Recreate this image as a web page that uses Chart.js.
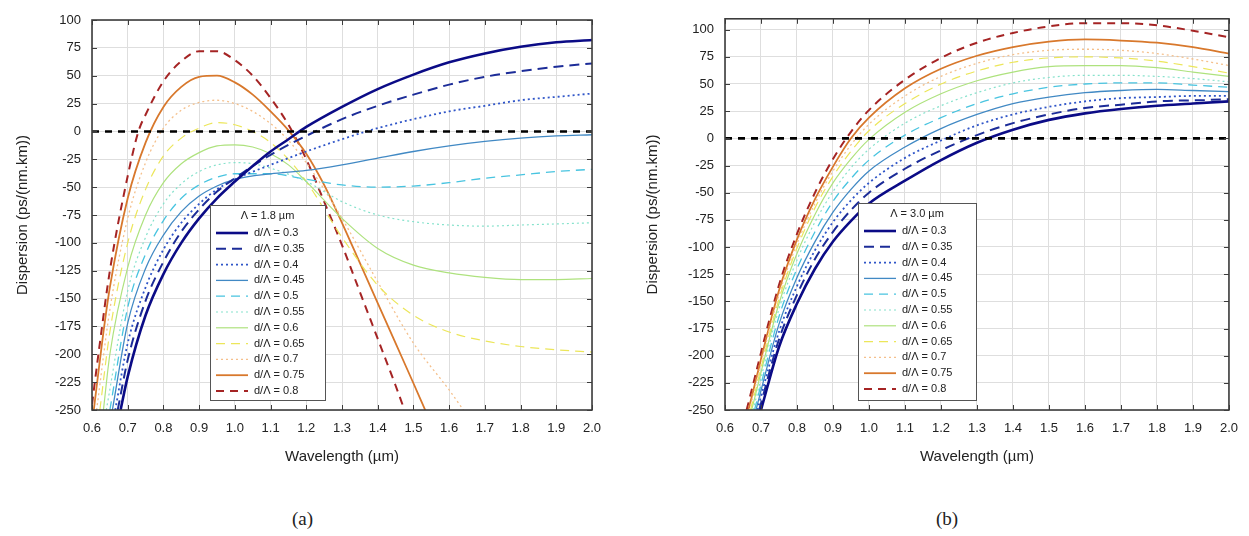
<!DOCTYPE html>
<html>
<head>
<meta charset="utf-8">
<script src="https://cdn.jsdelivr.net/npm/chart.js@4.4.1/dist/chart.umd.min.js"></script>
<style>
  body { margin: 0; background: #fff; width: 1249px; height: 536px; position: relative; overflow: hidden; }
  #wrapA { position: absolute; left: 0; top: 0; }
  #wrapB { position: absolute; left: 630px; top: 0; }
  .cap { position: absolute; top: 508px; font-family: "Liberation Serif", "DejaVu Serif", serif; font-size: 19px; color: #222; }
</style>
</head>
<body>
<div id="wrapA"><canvas id="chartA" width="615" height="480"></canvas></div>
<div id="wrapB"><canvas id="chartB" width="619" height="480"></canvas></div>
<div class="cap" style="left:292px">(a)</div>
<div class="cap" style="left:936px">(b)</div>

<script>
// legend labels (d/Λ) and tick values
const ratios = ['0.3', '0.35', '0.4', '0.45', '0.5', '0.55', '0.6', '0.65', '0.7', '0.75', '0.8'];
const xTicks = [0.6, 0.7, 0.8, 0.9, 1.0, 1.1, 1.2, 1.3, 1.4, 1.5, 1.6, 1.7, 1.8, 1.9, 2.0];
const yTicks = [-250, -225, -200, -175, -150, -125, -100, -75, -50, -25, 0, 25, 50, 75, 100];

// panel (a), Λ = 1.8 µm : [wavelength µm, dispersion ps/(nm.km)]
const a30 = [[0.68,-250],[0.7,-220],[0.75,-165],[0.8,-128],[0.85,-100],[0.9,-78],[0.95,-60],[1.0,-45],[1.05,-31],[1.1,-18],[1.15,-7],[1.2,4],[1.3,22],[1.4,38],[1.5,51],[1.6,62],[1.7,70],[1.8,76],[1.9,80],[2.0,82]];
const a35 = [[0.672,-250],[0.7,-205],[0.75,-152],[0.8,-117],[0.85,-90],[0.9,-70],[0.95,-54],[1.0,-42],[1.1,-21],[1.2,-4],[1.3,11],[1.4,23],[1.5,33],[1.6,42],[1.7,49],[1.8,54],[1.9,58],[2.0,61]];
const a40 = [[0.665,-250],[0.7,-190],[0.75,-140],[0.8,-106],[0.85,-82],[0.9,-65],[0.95,-52],[1.0,-43],[1.1,-30],[1.2,-18],[1.3,-7],[1.4,3],[1.5,11],[1.6,18],[1.7,23],[1.8,28],[1.9,31],[2.0,34]];
const a45 = [[0.657,-250],[0.7,-172],[0.75,-123],[0.8,-93],[0.85,-72],[0.9,-58],[0.95,-49],[1.0,-43],[1.1,-38],[1.2,-35],[1.3,-30],[1.4,-24],[1.5,-18],[1.6,-13],[1.7,-9],[1.8,-6],[1.9,-4],[2.0,-3]];
const a50 = [[0.65,-250],[0.7,-158],[0.75,-110],[0.8,-80],[0.85,-60],[0.9,-48],[0.95,-41],[1.0,-38],[1.1,-38],[1.2,-43],[1.3,-48],[1.4,-50],[1.5,-49],[1.6,-46],[1.7,-42],[1.8,-39],[1.9,-36],[2.0,-34]];
const a55 = [[0.64,-250],[0.7,-143],[0.75,-95],[0.8,-65],[0.85,-47],[0.9,-36],[0.95,-30],[1.0,-28],[1.05,-29],[1.1,-33],[1.2,-45],[1.3,-63],[1.4,-75],[1.5,-81],[1.6,-84],[1.7,-85],[1.8,-84],[1.9,-83],[2.0,-82]];
const a60 = [[0.632,-250],[0.65,-200],[0.7,-122],[0.75,-75],[0.8,-46],[0.85,-29],[0.9,-19],[0.95,-13],[1.0,-12],[1.05,-14],[1.1,-20],[1.15,-30],[1.2,-45],[1.3,-78],[1.4,-105],[1.5,-120],[1.6,-127],[1.7,-131],[1.8,-133],[1.9,-133],[2.0,-132]];
const a65 = [[0.622,-250],[0.65,-180],[0.7,-100],[0.75,-52],[0.8,-22],[0.85,-6],[0.9,3],[0.95,8],[1.0,6],[1.05,0],[1.1,-10],[1.15,-25],[1.2,-45],[1.3,-95],[1.4,-138],[1.5,-165],[1.6,-180],[1.7,-188],[1.8,-193],[1.9,-196],[2.0,-198]];
const a70 = [[0.613,-250],[0.65,-160],[0.7,-78],[0.75,-28],[0.8,3],[0.85,19],[0.9,26],[0.95,28],[1.0,25],[1.05,18],[1.1,7],[1.15,-8],[1.2,-28],[1.25,-52],[1.3,-78],[1.4,-135],[1.5,-190],[1.6,-232],[1.64,-250]];
const a75 = [[0.605,-250],[0.63,-185],[0.65,-140],[0.7,-60],[0.75,-10],[0.8,22],[0.85,40],[0.9,49],[0.95,50],[1.0,44],[1.05,33],[1.1,18],[1.15,1],[1.2,-20],[1.25,-48],[1.3,-82],[1.35,-118],[1.4,-154],[1.45,-190],[1.5,-226],[1.533,-250]];
const a80 = [[0.6,-245],[0.62,-195],[0.65,-125],[0.7,-40],[0.73,0],[0.75,15],[0.8,45],[0.85,63],[0.9,72],[0.95,72],[1.0,64],[1.05,50],[1.1,30],[1.15,6],[1.2,-25],[1.25,-63],[1.3,-102],[1.35,-144],[1.4,-186],[1.45,-228],[1.475,-250]];

// panel (b), Λ = 3.0 µm
const b30 = [[0.7,-250],[0.75,-192],[0.8,-152],[0.85,-120],[0.9,-95],[0.95,-76],[1.0,-60],[1.1,-39],[1.2,-20],[1.3,-4],[1.4,8],[1.5,17],[1.6,23],[1.7,27],[1.8,30],[1.9,32],[2.0,34]];
const b35 = [[0.695,-250],[0.75,-185],[0.8,-144],[0.85,-111],[0.9,-86],[0.95,-66],[1.0,-50],[1.1,-28],[1.2,-11],[1.3,3],[1.4,14],[1.5,22],[1.6,28],[1.7,31],[1.8,34],[1.9,35],[2.0,36]];
const b40 = [[0.69,-250],[0.75,-178],[0.8,-136],[0.85,-103],[0.9,-77],[0.95,-57],[1.0,-41],[1.1,-18],[1.2,-2],[1.3,12],[1.4,22],[1.5,29],[1.6,34],[1.7,37],[1.8,38],[1.9,39],[2.0,39]];
const b45 = [[0.686,-250],[0.75,-171],[0.8,-128],[0.85,-95],[0.9,-68],[0.95,-47],[1.0,-30],[1.1,-8],[1.2,9],[1.3,22],[1.4,32],[1.5,38],[1.6,42],[1.7,44],[1.8,45],[1.9,44],[2.0,43]];
const b50 = [[0.682,-250],[0.75,-164],[0.8,-120],[0.85,-86],[0.9,-58],[0.95,-37],[1.0,-20],[1.1,3],[1.2,19],[1.3,32],[1.4,41],[1.5,47],[1.6,50],[1.7,51],[1.8,51],[1.9,49],[2.0,47]];
const b55 = [[0.678,-250],[0.75,-157],[0.8,-112],[0.85,-77],[0.9,-49],[0.95,-27],[1.0,-10],[1.1,14],[1.2,30],[1.3,42],[1.4,51],[1.5,56],[1.6,58],[1.7,58],[1.8,57],[1.9,55],[2.0,52]];
const b60 = [[0.674,-250],[0.75,-152],[0.8,-106],[0.85,-70],[0.9,-41],[0.95,-19],[1.0,-1],[1.1,24],[1.2,41],[1.3,53],[1.4,61],[1.5,66],[1.6,67],[1.7,67],[1.8,65],[1.9,61],[2.0,57]];
const b65 = [[0.671,-250],[0.75,-148],[0.8,-101],[0.85,-64],[0.9,-35],[0.95,-12],[1.0,7],[1.1,32],[1.2,50],[1.3,62],[1.4,70],[1.5,74],[1.6,75],[1.7,74],[1.8,71],[1.9,66],[2.0,60]];
const b70 = [[0.668,-250],[0.75,-144],[0.8,-97],[0.85,-60],[0.9,-30],[0.95,-6],[1.0,13],[1.1,39],[1.2,57],[1.3,69],[1.4,77],[1.5,81],[1.6,82],[1.7,81],[1.8,78],[1.9,73],[2.0,67]];
const b75 = [[0.665,-250],[0.75,-140],[0.8,-93],[0.85,-56],[0.9,-26],[0.95,0],[1.0,19],[1.1,46],[1.2,64],[1.3,76],[1.4,84],[1.5,89],[1.6,91],[1.7,90],[1.8,88],[1.9,84],[2.0,78]];
const b80 = [[0.66,-250],[0.75,-135],[0.8,-88],[0.85,-50],[0.9,-19],[0.95,6],[1.0,26],[1.1,54],[1.2,74],[1.3,88],[1.4,97],[1.5,103],[1.6,106],[1.7,106],[1.8,104],[1.9,99],[2.0,93]];

// line styles, one per d/Λ
const colors = ['#0b0b86', '#1c2c98', '#2f55c8', '#4189c4', '#48c4e0', '#86e2cc', '#aee27e', '#ece65a', '#f5c08c', '#d8782c', '#a52424'];
const dashes = [[], [10, 6], [2, 3], [], [9, 6], [2, 3], [], [9, 6], [2, 3], [], [8, 6]];
const widths = [2.6, 2, 1.8, 1.3, 1.3, 1.2, 1.2, 1.2, 1.3, 1.8, 2];

const FONT = '"Liberation Sans", Arial, sans-serif';

// MATLAB-like box with inward tick marks
const framePlugin = {
  id: 'frame',
  afterDatasetsDraw(chart) {
    const { ctx, chartArea: a, scales: { x, y } } = chart;
    ctx.save();
    ctx.strokeStyle = '#3c3c3c';
    ctx.lineWidth = 1;
    ctx.beginPath();
    x.ticks.forEach(t => {
      const px = Math.round(x.getPixelForValue(t.value)) + 0.5;
      ctx.moveTo(px, a.bottom); ctx.lineTo(px, a.bottom - 5);
      ctx.moveTo(px, a.top); ctx.lineTo(px, a.top + 5);
    });
    y.ticks.forEach(t => {
      const py = Math.round(y.getPixelForValue(t.value)) + 0.5;
      ctx.moveTo(a.left, py); ctx.lineTo(a.left + 5, py);
      ctx.moveTo(a.right, py); ctx.lineTo(a.right - 5, py);
    });
    ctx.stroke();
    ctx.lineWidth = 1.6;
    ctx.strokeRect(a.left, a.top, a.right - a.left, a.bottom - a.top);
    ctx.restore();
  }
};

// legend box drawn inside the axes
const boxLegend = {
  id: 'boxLegend',
  afterDraw(chart, args, opts) {
    const { ctx } = chart;
    const rowH = 15.8;
    ctx.save();
    ctx.fillStyle = '#fff';
    ctx.strokeStyle = '#555';
    ctx.lineWidth = 1;
    ctx.fillRect(opts.left, opts.top, opts.width, opts.height);
    ctx.strokeRect(opts.left + 0.5, opts.top + 0.5, opts.width, opts.height);
    ctx.fillStyle = '#222';
    ctx.font = '11px ' + FONT;
    ctx.textBaseline = 'middle';
    ctx.textAlign = 'center';
    ctx.fillText(opts.title, opts.left + opts.width / 2, opts.top + 11);
    ctx.textAlign = 'left';
    ratios.forEach((r, i) => {
      const yy = opts.top + 28 + i * rowH;
      ctx.strokeStyle = colors[i];
      ctx.lineWidth = widths[i];
      ctx.setLineDash(dashes[i]);
      ctx.beginPath();
      ctx.moveTo(opts.left + 6, yy);
      ctx.lineTo(opts.left + 38, yy);
      ctx.stroke();
      ctx.setLineDash([]);
      ctx.fillStyle = '#222';
      ctx.fillText('d/Λ = ' + r, opts.left + 44, yy);
    });
    ctx.restore();
  }
};

function buildDatasets(series) {
  const sets = [{
    data: [{ x: 0.6, y: 0 }, { x: 2.0, y: 0 }],
    borderColor: '#000', borderWidth: 2.6, borderDash: [7, 6], pointRadius: 0
  }];
  series.forEach((s, i) => {
    sets.push({
      data: s.map(p => ({ x: p[0], y: p[1] })),
      borderColor: colors[i],
      borderWidth: widths[i],
      borderDash: dashes[i],
      pointRadius: 0,
      cubicInterpolationMode: 'monotone'
    });
  });
  return sets;
}

function buildOptions(yMax, yWidth, padTop, padRight, legendBox) {
  return {
    responsive: false,
    animation: false,
    layout: { padding: { top: padTop, right: padRight, left: 0, bottom: 0 } },
    plugins: { legend: { display: false }, tooltip: { enabled: false }, boxLegend: legendBox },
    scales: {
      x: {
        type: 'linear', min: 0.6, max: 2.0,
        afterBuildTicks: s => { s.ticks = xTicks.map(v => ({ value: v })); },
        afterFit: s => { s.height = 70; },
        grid: { color: '#dedede', drawTicks: false },
        border: { display: false },
        ticks: { padding: 11, autoSkip: false, maxRotation: 0, color: '#222', font: { family: FONT, size: 13 }, callback: v => v.toFixed(1) },
        title: { display: true, text: 'Wavelength (µm)', color: '#222', font: { family: FONT, size: 15 }, padding: { top: 0, bottom: 14 } }
      },
      y: {
        type: 'linear', min: -250, max: yMax,
        afterBuildTicks: s => { s.ticks = yTicks.map(v => ({ value: v })); },
        afterFit: s => { s.width = yWidth; },
        grid: { color: '#dedede', drawTicks: false },
        border: { display: false },
        ticks: { padding: 11, color: '#222', font: { family: FONT, size: 13 } },
        title: { display: true, text: 'Dispersion (ps/(nm.km))', color: '#222', font: { family: FONT, size: 15 }, padding: { top: 14, bottom: 0 } }
      }
    }
  };
}

new Chart(document.getElementById('chartA'), {
  type: 'line',
  data: { datasets: buildDatasets([a30, a35, a40, a45, a50, a55, a60, a65, a70, a75, a80]) },
  options: buildOptions(100, 92, 20, 23, { left: 210, top: 205, width: 115, height: 195, title: 'Λ = 1.8 µm' }),
  plugins: [framePlugin, boxLegend]
});

new Chart(document.getElementById('chartB'), {
  type: 'line',
  data: { datasets: buildDatasets([b30, b35, b40, b45, b50, b55, b60, b65, b70, b75, b80]) },
  options: buildOptions(110, 95, 14, 15, { left: 228, top: 203, width: 118, height: 197, title: 'Λ = 3.0 µm' }),
  plugins: [framePlugin, boxLegend]
});
</script>
</body>
</html>
